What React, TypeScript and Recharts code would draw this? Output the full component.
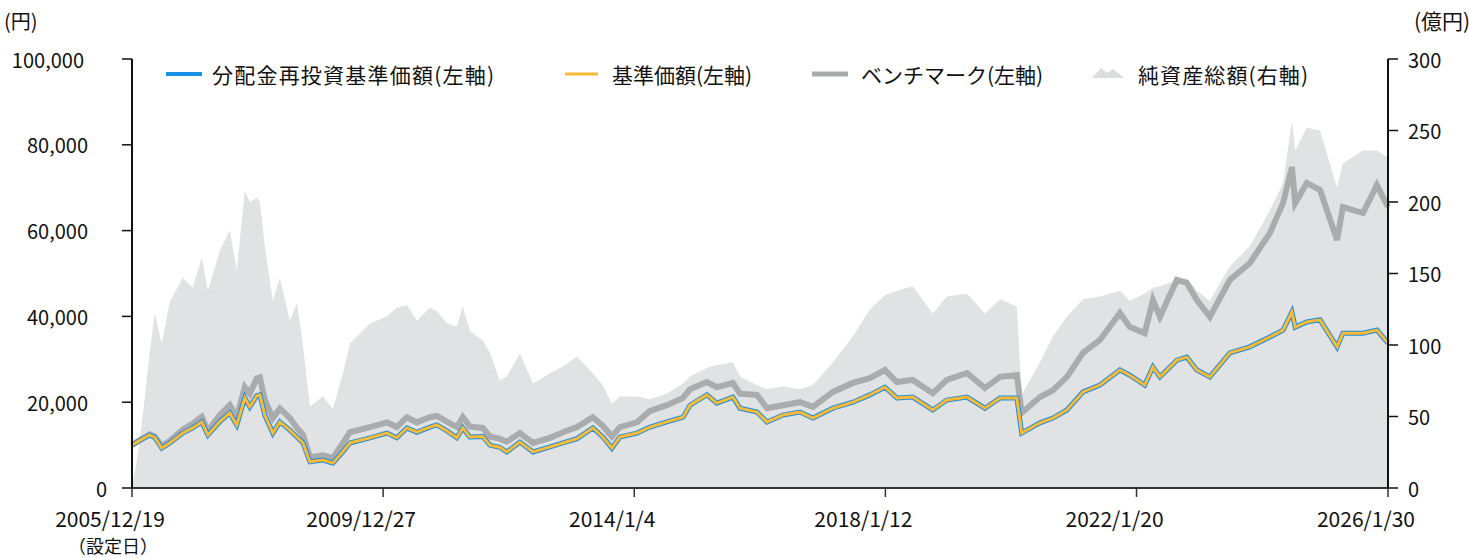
import { ComposedChart, Area, Line, XAxis, YAxis } from "recharts";

// 基準日ごとの読み取り値
const dates = [
  "2005/12/19", "2006/01/17", "2006/02/21", "2006/04/02", "2006/05/01", "2006/06/11", "2006/07/28", "2006/10/12",
  "2006/12/09", "2007/01/31", "2007/03/08", "2007/05/17", "2007/07/14", "2007/08/24", "2007/10/10", "2007/11/08",
  "2007/12/19", "2008/01/06", "2008/02/04", "2008/03/22", "2008/05/02", "2008/06/29", "2008/08/10", "2008/09/14",
  "2008/10/25", "2009/01/09", "2009/03/08", "2009/05/06", "2009/06/16", "2009/10/11", "2010/01/18", "2010/03/17",
  "2010/05/15", "2010/07/12", "2010/09/26", "2010/11/06", "2011/01/04", "2011/03/03", "2011/04/07", "2011/05/18",
  "2011/08/02", "2011/09/12", "2011/11/09", "2011/12/20", "2012/03/06", "2012/05/22", "2012/08/29", "2012/11/13",
  "2013/02/03", "2013/05/07", "2013/07/04", "2013/08/26", "2013/10/12", "2014/01/20", "2014/04/06", "2014/07/14",
  "2014/10/16", "2014/11/26", "2015/03/05", "2015/05/02", "2015/08/04", "2015/09/14", "2015/12/23", "2016/02/19",
  "2016/05/23", "2016/08/30", "2016/11/14", "2017/03/11", "2017/07/06", "2017/10/13", "2018/01/09", "2018/03/20",
  "2018/06/21", "2018/10/16", "2019/01/06", "2019/05/04", "2019/08/17", "2019/11/13", "2020/02/20", "2020/03/19",
  "2020/07/04", "2020/09/18", "2020/12/09", "2021/03/13", "2021/06/20", "2021/10/15", "2021/12/12", "2022/03/09",
  "2022/04/26", "2022/06/06", "2022/09/13", "2022/11/10", "2023/01/08", "2023/03/25", "2023/07/20", "2023/11/13",
  "2024/03/10", "2024/05/26", "2024/07/17", "2024/08/05", "2024/10/12", "2024/12/28", "2025/04/07", "2025/05/11",
  "2025/09/06", "2025/11/26", "2026/01/30",
];

// 分配金再投資基準価額（分配なしのため基準価額と重なる）
const reinvestNav = [
  10000, 10700, 11500, 12350, 11800, 9300, 10500, 12800, 14000, 15400, 12350, 15500, 17500, 14700, 21000, 18900,
  21500, 21700, 17000, 12800, 15400, 13500, 11900, 10500, 6100, 6500, 5800, 8500, 10500, 11700, 12800, 11700,
  14000, 13000, 14200, 14700, 13300, 11700, 14000, 11900, 12000, 10000, 9500, 8400, 10700, 8400, 9600, 10500,
  11500, 14000, 11900, 9300, 11900, 12800, 14200, 15400, 16500, 19300, 21700, 19800, 21200, 18600, 17700, 15400,
  17000, 17700, 16300, 18600, 20000, 21700, 23500, 21000, 21200, 18200, 20500, 21200, 18600, 21000, 21000, 12800,
  15200, 16300, 18200, 22400, 24000, 27500, 26300, 24000, 28200, 25900, 29800, 30500, 27500, 25900, 31500, 32900,
  35200, 36800, 41000, 37500, 38700, 39200, 32900, 36100, 36100, 36800, 33800,
];

// 基準価額
const nav = [
  10000, 10700, 11500, 12350, 11800, 9300, 10500, 12800, 14000, 15400, 12350, 15500, 17500, 14700, 21000, 18900,
  21500, 21700, 17000, 12800, 15400, 13500, 11900, 10500, 6100, 6500, 5800, 8500, 10500, 11700, 12800, 11700,
  14000, 13000, 14200, 14700, 13300, 11700, 14000, 11900, 12000, 10000, 9500, 8400, 10700, 8400, 9600, 10500,
  11500, 14000, 11900, 9300, 11900, 12800, 14200, 15400, 16500, 19300, 21700, 19800, 21200, 18600, 17700, 15400,
  17000, 17700, 16300, 18600, 20000, 21700, 23500, 21000, 21200, 18200, 20500, 21200, 18600, 21000, 21000, 12800,
  15200, 16300, 18200, 22400, 24000, 27500, 26300, 24000, 28200, 25900, 29800, 30500, 27500, 25900, 31500, 32900,
  35200, 36800, 41000, 37500, 38700, 39200, 32900, 36100, 36100, 36800, 33800,
];

// ベンチマーク
const benchmark = [
  10000, 10800, 11600, 12500, 12000, 9800, 11000, 13600, 15000, 16600, 13300, 17000, 19300, 16500, 23500, 22000,
  25600, 25800, 20500, 16300, 18500, 16300, 14000, 12400, 7200, 7600, 7000, 10500, 13000, 14200, 15300, 14200,
  16500, 15300, 16500, 16800, 15500, 14200, 16500, 14300, 14000, 12000, 11500, 10800, 12800, 10500, 11700, 13000,
  14200, 16500, 14500, 12000, 14200, 15300, 18000, 19300, 21000, 23000, 24700, 23500, 24500, 22000, 21700, 18600,
  19300, 20000, 18900, 22400, 24500, 25600, 27500, 24700, 25200, 22100, 25200, 26800, 23300, 25900, 26300, 17500,
  21200, 22800, 25900, 31500, 34500, 40800, 37500, 36100, 43800, 39900, 48500, 47800, 43800, 39900, 48500, 52400,
  59400, 66400, 74800, 66400, 71100, 69500, 57800, 65500, 64100, 70600, 65500,
];

// 純資産総額（億円）
const netAssets = [
  0, 20, 52, 95, 122, 101, 130, 147, 140, 161, 138, 166, 180, 152, 208, 200,
  203, 200, 169, 131, 147, 117, 129, 100, 57, 64, 55, 80, 101, 115, 120, 126,
  128, 117, 126, 124, 115, 113, 127, 110, 103, 95, 75, 78, 94, 73, 80, 85,
  92, 80, 72, 59, 64, 64, 62, 66, 73, 78, 84, 86, 88, 78, 72, 69,
  71, 69, 72, 88, 106, 125, 135, 138, 141, 122, 134, 136, 122, 132, 127, 65,
  88, 106, 120, 132, 134, 138, 131, 136, 140, 141, 145, 147, 138, 131, 155, 169,
  194, 213, 257, 236, 252, 250, 210, 227, 236, 236, 231,
];

const xTickLabels = ["2005/12/19", "2009/12/27", "2014/1/4", "2018/1/12", "2022/1/20", "2026/1/30"];
const leftTicks = [0, 20000, 40000, 60000, 80000, 100000];
const rightTicks = [0, 50, 100, 150, 200, 250, 300];

const FONT = '"Noto Sans CJK JP", "Noto Sans", sans-serif';
const BLUE = "#1a8fe6";
const YELLOW = "#fbb934";
const GRAY = "#aaabad";
const AREA = "#e1e2e4";

const toTime = (s: string) => {
  const [y, m, d] = s.split("/").map(Number);
  return Date.UTC(y, m - 1, d);
};

const data = dates.map((d, i) => ({
  t: toTime(d),
  reinvest: reinvestNav[i],
  nav: nav[i],
  bench: benchmark[i],
  aum: netAssets[i],
}));

const xTicks = xTickLabels.map(toTime);

function LeftTick({ y, payload }: any) {
  const v = payload.value as number;
  const right = v === 0 ? 107 : v === 100000 ? 84 : 88;
  return (
    <text x={right} y={y} textAnchor="end" dominantBaseline="central" fontSize={20} fill="#111" fontFamily={FONT}>
      {v.toLocaleString("en-US")}
    </text>
  );
}

function RightTick({ y, payload }: any) {
  return (
    <text x={1408} y={y} textAnchor="start" dominantBaseline="central" fontSize={20} fill="#111" fontFamily={FONT}>
      {payload.value}
    </text>
  );
}

function DateTick({ x, index }: any) {
  return (
    <g>
      <text x={x - 22} y={518} textAnchor="middle" dominantBaseline="central" fontSize={21} fill="#111" fontFamily={FONT}>
        {xTickLabels[index]}
      </text>
      {index === 0 && (
        <text x={113} y={545} textAnchor="middle" dominantBaseline="central" fontSize={18} fill="#111" fontFamily={FONT}>
          （設定日）
        </text>
      )}
    </g>
  );
}

function Overlay() {
  const txt = { fontSize: 21, fill: "#111", fontFamily: FONT, dominantBaseline: "central" as const };
  return (
    <svg width={1469} height={558} style={{ position: "absolute", left: 0, top: 0, pointerEvents: "none" }}>
      <text x={4} y={20} {...txt} fontSize={20}>(円)</text>
      <text x={1414} y={20} {...txt} fontSize={21}>(億円)</text>

      <line x1={166} x2={202} y1={74} y2={74} stroke={BLUE} strokeWidth={4} />
      <text x={212} y={74} {...txt} textLength={282} lengthAdjust="spacing">分配金再投資基準価額(左軸)</text>

      <line x1={565} x2={598} y1={74} y2={74} stroke={YELLOW} strokeWidth={3} />
      <text x={612} y={74} {...txt}>基準価額(左軸)</text>

      <line x1={812} x2={848} y1={74} y2={74} stroke={GRAY} strokeWidth={5} />
      <text x={861} y={74} {...txt}>ベンチマーク(左軸)</text>

      <path d="M1092 78 L1101 68 L1107 73 L1113 69 L1124 78 Z" fill="#dcdddf" />
      <text x={1138} y={74} {...txt} textLength={170} lengthAdjust="spacing">純資産総額(右軸)</text>
    </svg>
  );
}

export default function App() {
  return (
    <div style={{ position: "absolute", left: 0, top: 0, width: 1469, height: 558, overflow: "hidden", background: "#fff" }}>
      <ComposedChart width={1469} height={558} data={data} margin={{ top: 59, right: 0, left: 0, bottom: 40 }}>
        <XAxis
          dataKey="t"
          type="number"
          domain={[xTicks[0], xTicks[xTicks.length - 1]]}
          ticks={xTicks}
          interval={0}
          height={30}
          tickSize={9}
          tick={<DateTick />}
          axisLine={{ stroke: "#333", strokeWidth: 2 }}
          tickLine={{ stroke: "#333", strokeWidth: 1.5 }}
        />
        <YAxis
          yAxisId="left"
          orientation="left"
          width={132}
          domain={[0, 100000]}
          ticks={leftTicks}
          interval={0}
          tickSize={10}
          tick={<LeftTick />}
          axisLine={{ stroke: "#111", strokeWidth: 2 }}
          tickLine={{ stroke: "#111", strokeWidth: 1.5 }}
        />
        <YAxis
          yAxisId="right"
          orientation="right"
          width={81}
          domain={[0, 300]}
          ticks={rightTicks}
          interval={0}
          tickSize={10}
          tick={<RightTick />}
          axisLine={{ stroke: "#111", strokeWidth: 2 }}
          tickLine={{ stroke: "#111", strokeWidth: 1.5 }}
        />
        <Area
          yAxisId="right"
          dataKey="aum"
          type="linear"
          stroke="none"
          fill={AREA}
          fillOpacity={1}
          isAnimationActive={false}
        />
        <Line yAxisId="left" dataKey="bench" type="linear" stroke={GRAY} strokeWidth={6} dot={false} isAnimationActive={false} />
        <Line yAxisId="left" dataKey="reinvest" type="linear" stroke={BLUE} strokeWidth={5} dot={false} isAnimationActive={false} />
        <Line yAxisId="left" dataKey="nav" type="linear" stroke={YELLOW} strokeWidth={3} dot={false} isAnimationActive={false} />
      </ComposedChart>
      <Overlay />
    </div>
  );
}
